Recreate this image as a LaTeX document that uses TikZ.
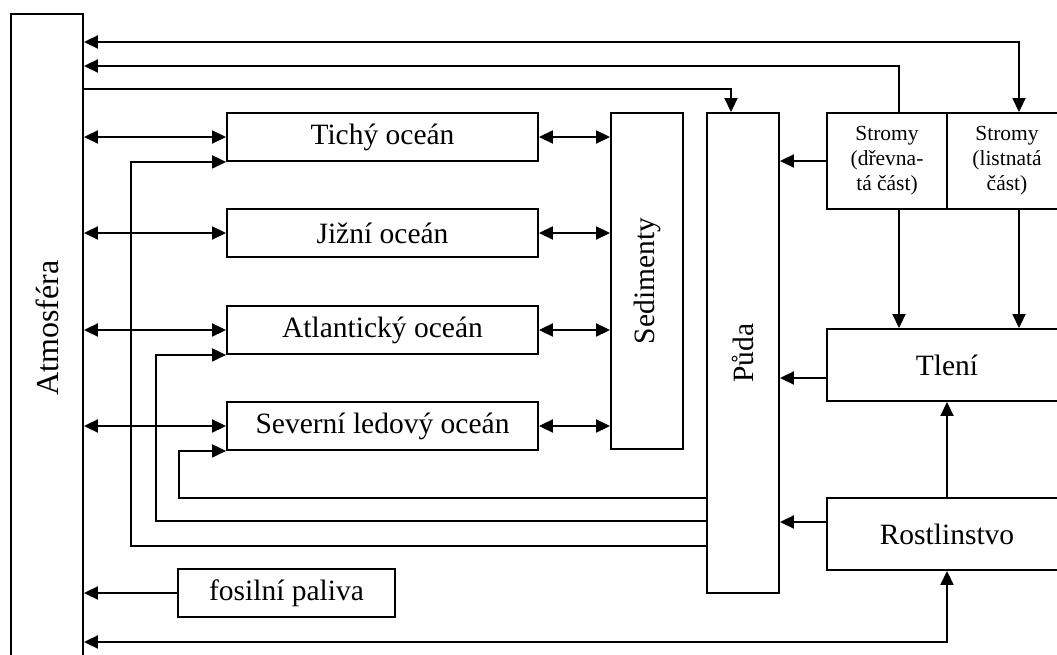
\documentclass[tikz,border=0pt]{standalone}
\usepackage{fontspec}
\setmainfont{Liberation Serif}
\usepackage{graphicx}
\usetikzlibrary{arrows.meta}

\begin{document}
\begin{tikzpicture}[x=1pt, y=-1pt, line width=1.9pt,
    >={Triangle[length=14pt, width=13pt]},
    box/.style={draw, rectangle, inner sep=2pt, align=center,
      font=\fontsize{29.5}{35}\selectfont},
    smallbox/.style={box, font=\fontsize{21.5}{25}\selectfont},
    ocean/.style={box, minimum width=311pt, minimum height=48pt}]
   \useasboundingbox (0,0) rectangle (1057,655);

   \node[box, minimum width=72pt, minimum height=690pt, anchor=north] (atm) at (47,13) {};
   \node[rotate=90, font=\fontsize{32}{38}\selectfont] (atm_t) at (47,328) {Atmosféra};

   \node[ocean] (oc_1) at (382.5,137) {Tichý oceán};
   \node[ocean] (oc_2) at (382.5,233) {Jižní oceán};
   \node[ocean] (oc_3) at (382.5,330) {Atlantický oceán};
   \node[ocean] (oc_4) at (382.5,426) {Severní ledový oceán};

   \node[box, minimum width=72pt, minimum height=336pt] (sed) at (647,281) {\rotatebox{90}{Sedimenty}};
   \node[box, minimum width=72pt, minimum height=480pt] (puda) at (743,353) {\rotatebox{90}{Půda}};

   \node[smallbox, minimum width=120pt, minimum height=96pt] (str_1) at (887,161) {Stromy\\(dřevna-\\tá část)};
   \node[smallbox, minimum width=120pt, minimum height=96pt] (str_2) at (1007,161) {Stromy\\(listnatá\\část)};
   \node[box, minimum width=240pt, minimum height=72pt] (tleni) at (947,365) {Tlení};
   \node[box, minimum width=240pt, minimum height=72pt] (rost) at (947,534) {Rostlinstvo};
   \node[box, minimum width=217pt, minimum height=48pt] (fos) at (286.5,593) {fosilní paliva};

   % heights of the long lines
   \coordinate (top_1) at (0,42);
   \coordinate (top_2) at (0,66);
   \coordinate (top_3) at (0,89);
   \coordinate (bot) at (0,642);
   \coordinate (ret_1) at (131,546);
   \coordinate (ret_3) at (156,521);
   \coordinate (ret_4) at (179,498);

   \path[<->]
    % atmosfera <-> oceany
    (atm.east |- oc_1) edge (oc_1)
    (atm.east |- oc_2) edge (oc_2)
    (atm.east |- oc_3) edge (oc_3)
    (atm.east |- oc_4) edge (oc_4)
    % oceany <-> sedimenty
    (oc_1) edge (oc_1 -| sed.west)
    (oc_2) edge (oc_2 -| sed.west)
    (oc_3) edge (oc_3 -| sed.west)
    (oc_4) edge (oc_4 -| sed.west)
    ;

   % puda -> oceany
   \draw[->] (puda.west |- ret_1) -- (ret_1) |- (oc_1.south west);
   \draw[->] (puda.west |- ret_3) -- (ret_3) |- (oc_3.south west);
   \draw[->] (puda.west |- ret_4) -- (ret_4) |- (oc_4.south west);

   % horni vedeni
   \draw[<->] (atm.east |- top_1) -| ([xshift=12pt]str_2.north);
   \draw[->] ([xshift=12pt]str_1.north) |- (atm.east |- top_2);
   \draw[->] (atm.east |- top_3) -| ([xshift=-12pt]puda.north);

   \path[->]
    % stromy -> puda, tleni
    (str_1) edge (str_1 -| puda.east)
    ([xshift=12pt]str_1.south) edge ([xshift=12pt]str_1.south |- tleni.north)
    ([xshift=12pt]str_2.south) edge ([xshift=12pt]str_2.south |- tleni.north)
    % tleni, rostlinstvo -> puda
    ([yshift=-13pt]tleni.west) edge ([yshift=-13pt]tleni.west -| puda.east)
    ([yshift=12pt]rost.west) edge ([yshift=12pt]rost.west -| puda.east)
    % rostlinstvo -> tleni
    (rost) edge (tleni)
    % fosilni paliva -> atmosfera
    (fos) edge (fos -| atm.east)
    ;

   % atmosfera <-> rostlinstvo
   \draw[<->] (atm.east |- bot) -| (rost.south);
\end{tikzpicture}
\end{document}
